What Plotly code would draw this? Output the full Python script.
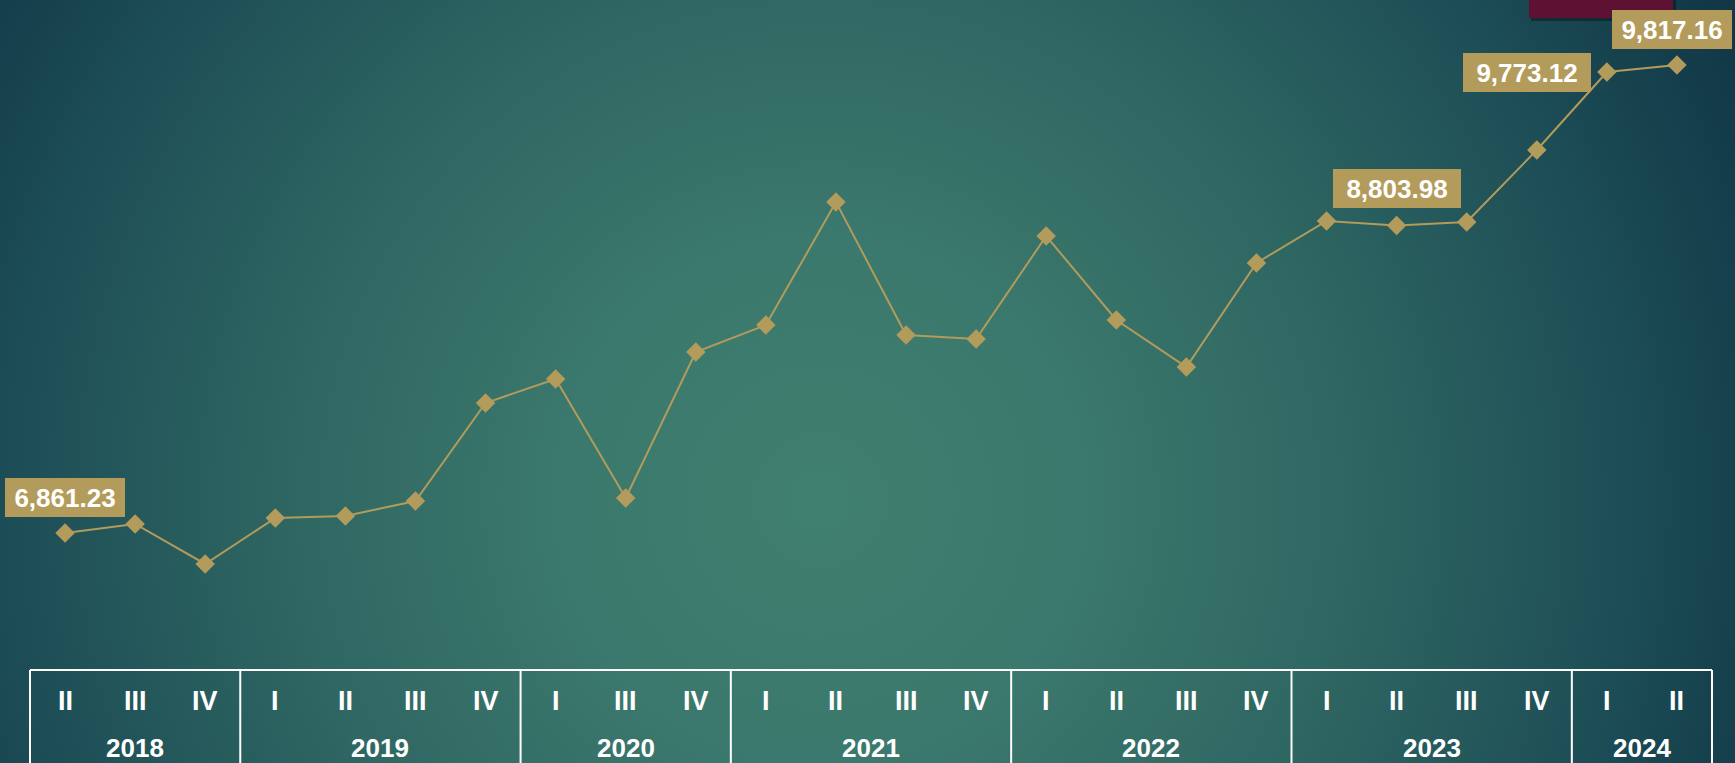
import base64
import plotly.graph_objects as go

# ---------------- data ----------------
years = ["2018", "2019", "2020", "2021", "2022", "2023", "2024"]
quarters_by_year = [
    ["II", "III", "IV"],
    ["I", "II", "III", "IV"],
    ["I", "III", "IV"],
    ["I", "II", "III", "IV"],
    ["I", "II", "III", "IV"],
    ["I", "II", "III", "IV"],
    ["I", "II"],
]
values = [6861.23, 6918.2, 6665.5, 6956.1, 6968.7, 7063.4, 7682.4,
          7834.0, 7082.4, 8004.5,
          8175.0, 8951.4, 8111.8, 8086.6,
          8737.0, 8206.6, 7909.8, 8566.7,
          8832.0, 8803.98, 8825.7, 9280.5,
          9773.12, 9817.16]
labelled_points = [0, 19, 22, 23]

# ---------------- styling ----------------
W, H = 1735, 763
ML, MR, MT, MB = 30, 23, 0, 93
PW, PH = W - ML - MR, H - MT - MB
GOLD = "#b29b5b"
FONT = "Liberation Sans, Arial, sans-serif"

n = len(values)
xs = list(range(n))


def px_x(p):
    return (p - ML) / PW


def px_y(p):
    return (H - MB - p) / PH


svg = f"""<svg xmlns='http://www.w3.org/2000/svg' width='{W}' height='{H}'>
<defs><radialGradient id='g' gradientUnits='userSpaceOnUse' cx='820' cy='500' r='1040'>
<stop offset='0' stop-color='#40806f'/>
<stop offset='0.25' stop-color='#3b786d'/>
<stop offset='0.5' stop-color='#2f6762'/>
<stop offset='0.76' stop-color='#1e4f57'/>
<stop offset='0.88' stop-color='#16424e'/>
<stop offset='1' stop-color='#113646'/>
</radialGradient></defs>
<rect width='{W}' height='{H}' fill='url(#g)'/></svg>"""
bg_src = "data:image/svg+xml;base64," + base64.b64encode(svg.encode()).decode()

fig = go.Figure()
fig.add_trace(go.Scatter(
    x=xs, y=values, mode="lines+markers",
    line=dict(color=GOLD, width=2),
    marker=dict(symbol="diamond", size=15, color=GOLD),
    hoverinfo="skip", showlegend=False,
))

annotations = []
# data labels
label_cfg = {0: (0, 36, 120), 19: (0, 37, 128), 22: (-80, 0, 128), 23: (-5, 36, 120)}
for i in labelled_points:
    dx, dy, w = label_cfg[i]
    annotations.append(dict(
        x=i, y=values[i], xref="x", yref="y",
        text=f"<b>{values[i]:,.2f}</b>", showarrow=False,
        xshift=dx, yshift=dy, width=w, height=39,
        bgcolor=GOLD, borderpad=0, borderwidth=0,
        font=dict(family=FONT, size=26, color="white"),
        xanchor="center", yanchor="middle", align="center", valign="middle",
    ))

shapes = []
# category table
top = px_y(670)
bottom = px_y(H + 5)
shapes.append(dict(type="line", xref="paper", yref="paper", x0=0, x1=1, y0=top, y1=top,
                   line=dict(color="white", width=2)))
idx = 0
bounds = [0]
for yr, qs in zip(years, quarters_by_year):
    for q in qs:
        annotations.append(dict(
            x=idx, y=0, xref="x", yref="paper", yshift=-31,
            text=f"<b>{q}</b>", showarrow=False,
            font=dict(family=FONT, size=27, color="white"),
            xanchor="center", yanchor="middle"))
        idx += 1
    mid = (bounds[-1] + idx - 1) / 2
    annotations.append(dict(
        x=mid, y=0, xref="x", yref="paper", yshift=-78,
        text=f"<b>{yr}</b>", showarrow=False,
        font=dict(family=FONT, size=26, color="white"),
        xanchor="center", yanchor="middle"))
    bounds.append(idx)
for b in bounds:
    xp = b / n
    shapes.append(dict(type="line", xref="paper", yref="paper", x0=xp, x1=xp, y0=top, y1=bottom,
                       line=dict(color="white", width=2)))

# maroon header box (cut off at top)
shapes.append(dict(type="rect", xref="paper", yref="paper", layer="above",
                   x0=px_x(1531), x1=px_x(1676), y0=px_y(21), y1=px_y(-5),
                   fillcolor="rgba(0,0,0,0.35)", line=dict(width=0)))
shapes.append(dict(type="rect", xref="paper", yref="paper", layer="above",
                   x0=px_x(1529), x1=px_x(1673), y0=px_y(18), y1=px_y(-5),
                   fillcolor="#5e1132", line=dict(width=0)))

fig.update_layout(
    width=W, height=H,
    margin=dict(l=ML, r=MR, t=MT, b=MB, pad=0),
    paper_bgcolor="#24575c", plot_bgcolor="rgba(0,0,0,0)",
    xaxis=dict(range=[-0.5, n - 0.5], visible=False, fixedrange=True),
    yaxis=dict(range=[5995.9, 10227.97], visible=False, fixedrange=True),
    images=[dict(source=bg_src, xref="paper", yref="paper",
                 x=px_x(0), y=px_y(0), sizex=W / PW, sizey=H / PH,
                 xanchor="left", yanchor="top", sizing="stretch", layer="below")],
    annotations=annotations, shapes=shapes,
    showlegend=False,
)

fig.write_html(
    "out.html",
    config={"displayModeBar": False},
    post_script="document.body.style.margin='0';document.body.style.overflow='hidden';",
)
